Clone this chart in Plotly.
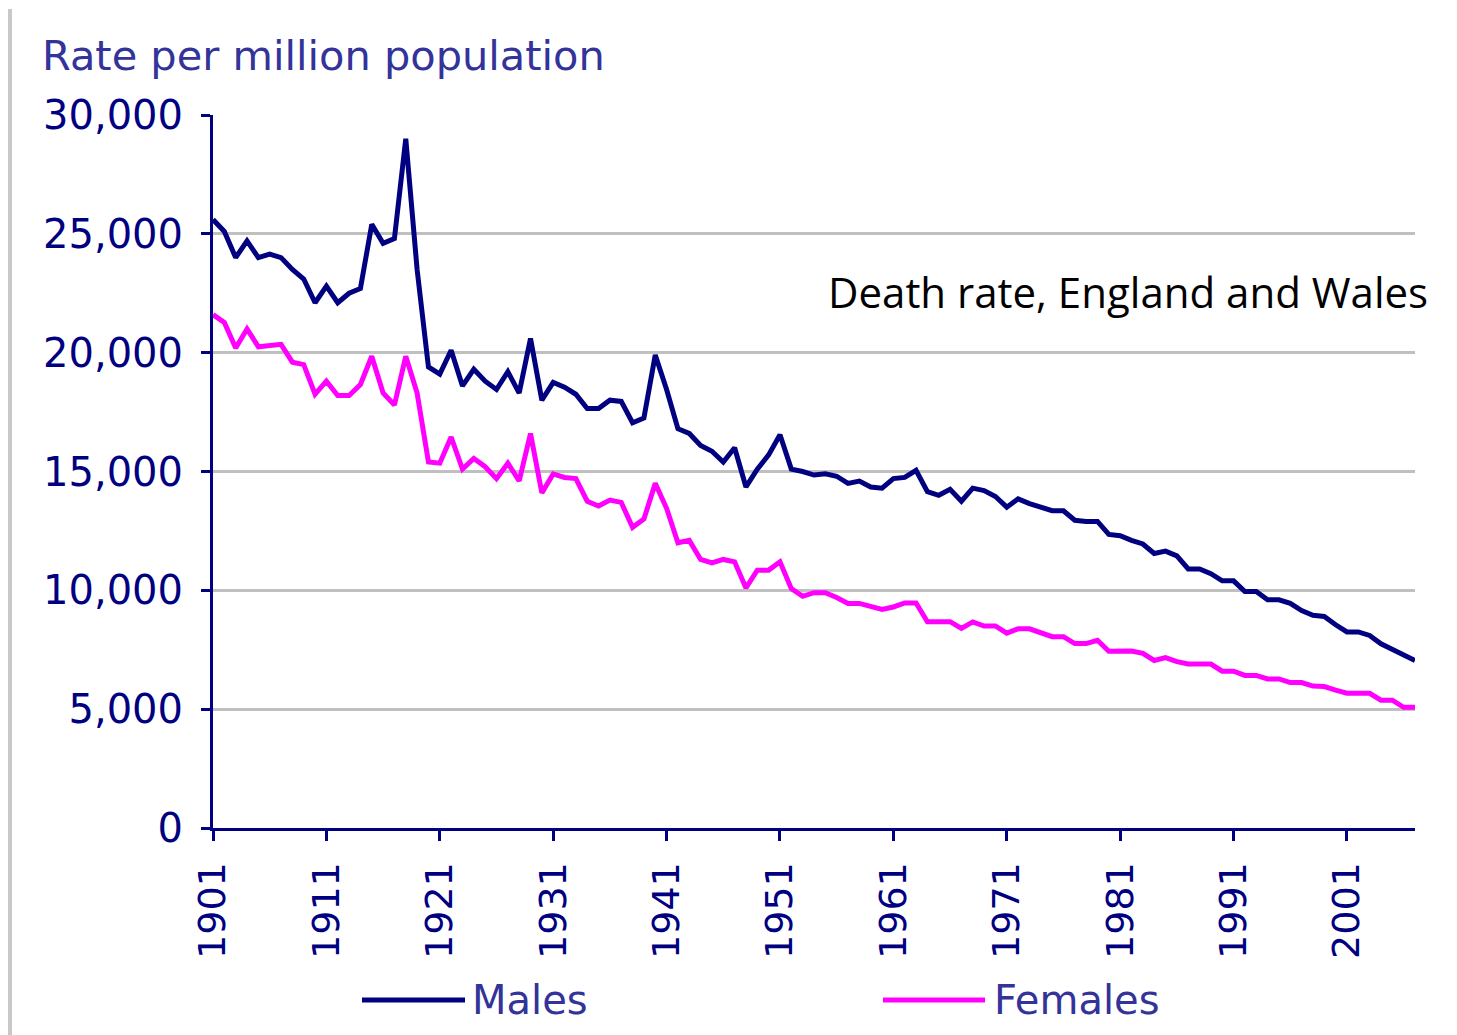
import plotly.graph_objects as go

years = list(range(1901, 2008))

males = [
    25600, 25100, 24000, 24700, 24000, 24150, 24000, 23500, 23100, 22100,  # 1901-1910
    22800, 22100, 22500, 22700, 25400, 24600, 24800, 29000, 23500, 19400,  # 1911-1920
    19100, 20100, 18600, 19300, 18800, 18450, 19200, 18300, 20600, 18000,  # 1921-1930
    18750, 18550, 18250, 17650, 17650, 18000, 17950, 17050, 17250, 19900,  # 1931-1940
    18450, 16800, 16600, 16100, 15850, 15400, 16000, 14350, 15100, 15700,  # 1941-1950
    16550, 15100, 15000, 14850, 14900, 14800, 14500, 14600, 14350, 14300,  # 1951-1960
    14700, 14750, 15050, 14150, 14000, 14250, 13750, 14300, 14200, 13950,  # 1961-1970
    13500, 13850, 13650, 13500, 13350, 13350, 12950, 12900, 12900, 12350,  # 1971-1980
    12300, 12100, 11950, 11550, 11650, 11450, 10900, 10900, 10700, 10400,  # 1981-1990
    10400, 9950, 9950, 9600, 9600, 9450, 9150, 8950, 8900, 8550,           # 1991-2000
    8250, 8250, 8100, 7750, 7500, 7250, 7050,                              # 2001-2007
]

females = [
    21600, 21270, 20200, 21000, 20250, 20300, 20350, 19600, 19500, 18250,  # 1901-1910
    18800, 18200, 18200, 18660, 19850, 18300, 17800, 19850, 18300, 15400,  # 1911-1920
    15350, 16450, 15100, 15550, 15200, 14700, 15350, 14600, 16600, 14100,  # 1921-1930
    14900, 14750, 14700, 13750, 13550, 13800, 13700, 12650, 13000, 14500,  # 1931-1940
    13450, 12000, 12100, 11300, 11150, 11300, 11200, 10100, 10850, 10850,  # 1941-1950
    11200, 10070, 9750, 9900, 9900, 9700, 9450, 9450, 9300, 9200,          # 1951-1960
    9300, 9470, 9470, 8680, 8680, 8680, 8400, 8670, 8500, 8500,            # 1961-1970
    8200, 8380, 8380, 8200, 8050, 8050, 7760, 7760, 7900, 7440,            # 1971-1980
    7440, 7450, 7350, 7050, 7170, 7000, 6900, 6900, 6900, 6600,            # 1981-1990
    6600, 6420, 6420, 6270, 6270, 6120, 6120, 5970, 5950, 5800,            # 1991-2000
    5670, 5670, 5670, 5380, 5380, 5080, 5080,                              # 2001-2007
]

tick_years = list(range(1901, 2002, 10))
tick_labels = [str(y) for y in tick_years]
y_ticks = [0, 5000, 10000, 15000, 20000, 25000, 30000]
y_tick_labels = ["0", "5,000", "10,000", "15,000", "20,000", "25,000", "30,000"]

series_names = ["Males", "Females"]
series_colors = ["#000080", "#FF00FF"]

NAVY = "#000080"
LABEL = "#333399"
FONT = "DejaVu Sans"

# page has an 8px body margin; work in screen pixel coordinates
OFF = 8
W, H = 1457 - OFF, 1035 - OFF
L, R, T, B = 213 - OFF, 42, 115 - OFF, 207
pw = W - L - R
ph = H - T - B


def px(x):
    return (x - OFF - L) / pw


def py(y):
    return (H - B - (y - OFF)) / ph


fig = go.Figure()
for name, vals, col in zip(series_names, [males, females], series_colors):
    fig.add_trace(go.Scatter(
        x=years, y=vals, mode="lines", name=name,
        line=dict(color=col, width=5),
        showlegend=False,
    ))

fig.update_layout(
    width=W, height=H,
    margin=dict(l=L, r=R, t=T, b=B, pad=0),
    paper_bgcolor="white", plot_bgcolor="white",
    font=dict(family=FONT, color=NAVY),
)

fig.update_xaxes(
    range=[1901, 2007],
    tickmode="array", tickvals=tick_years, ticktext=tick_labels,
    tickangle=-90,
    tickfont=dict(family=FONT, size=38, color=NAVY),
    showline=True, linecolor=NAVY, linewidth=3,
    ticks="outside", ticklen=10, tickwidth=3, tickcolor=NAVY,
    showgrid=False, zeroline=False,
    ticklabelstandoff=6,
)
fig.update_yaxes(
    range=[0, 30000],
    tickmode="array", tickvals=y_ticks, ticktext=y_tick_labels,
    tickfont=dict(family=FONT, size=40, color=NAVY),
    showline=True, linecolor=NAVY, linewidth=3,
    ticks="outside", ticklen=9, tickwidth=3, tickcolor=NAVY,
    showgrid=True, gridcolor="#C0C0C0", gridwidth=3,
    zeroline=False,
    ticklabelstandoff=10,
)

annotations = [
    dict(text="Rate per million population", xref="paper", yref="paper",
         x=px(40), y=py(56), xanchor="left", yanchor="middle", showarrow=False,
         font=dict(family=FONT, size=41.5, color=LABEL)),
    dict(text="Death rate, England and Wales", xref="paper", yref="paper",
         x=px(1430), y=py(291), xanchor="right", yanchor="middle", showarrow=False,
         font=dict(family="Open Sans", size=42, color="black")),
    dict(text=series_names[0], xref="paper", yref="paper",
         x=px(470), y=py(1000), xanchor="left", yanchor="middle", showarrow=False,
         font=dict(family=FONT, size=40, color=LABEL)),
    dict(text=series_names[1], xref="paper", yref="paper",
         x=px(992), y=py(1000), xanchor="left", yanchor="middle", showarrow=False,
         font=dict(family=FONT, size=40, color=LABEL)),
]

shapes = [
    dict(type="line", xref="paper", yref="paper", x0=px(362), x1=px(465),
         y0=py(1000), y1=py(1000), line=dict(color=series_colors[0], width=5)),
    dict(type="line", xref="paper", yref="paper", x0=px(883), x1=px(985),
         y0=py(1000), y1=py(1000), line=dict(color=series_colors[1], width=5)),
    dict(type="line", xref="paper", yref="paper", x0=px(10), x1=px(10),
         y0=py(9), y1=py(1035), line=dict(color="#C8C8C8", width=4)),
]

fig.update_layout(annotations=annotations, shapes=shapes)

fig.write_html("out.html")
